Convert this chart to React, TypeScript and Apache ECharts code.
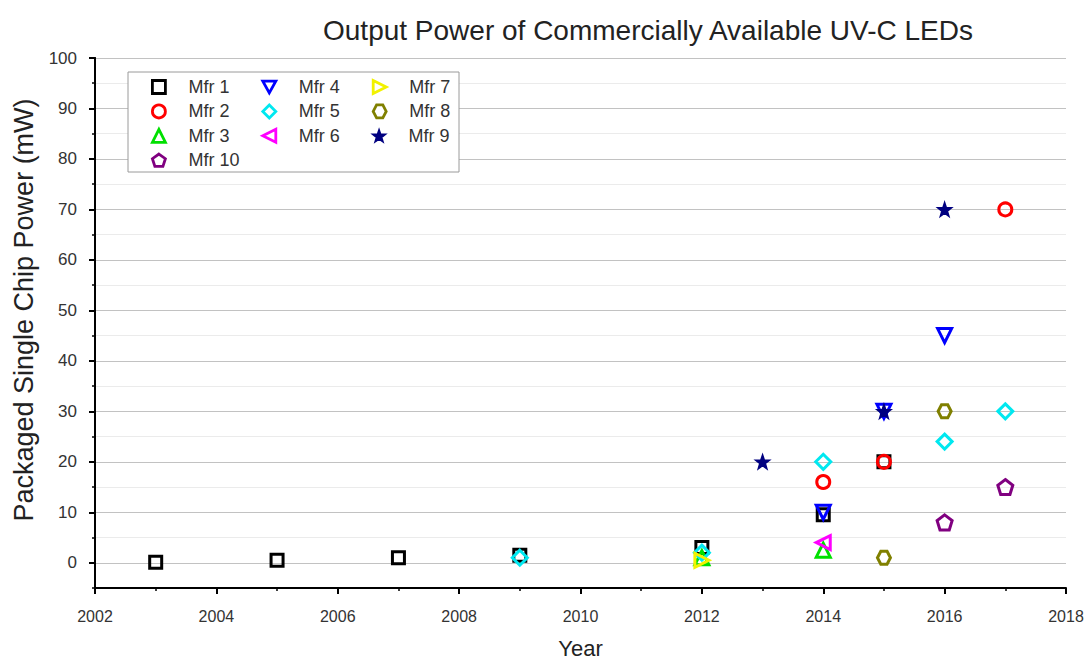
import React, { useEffect, useRef } from "react";
import * as echarts from "echarts";

const FONT = "'Liberation Sans', Arial, sans-serif";

const chartTitle = "Output Power of Commercially Available UV-C LEDs";
const xName = "Year";
const yName = "Packaged Single Chip Power (mW)";
const yMajorTicks = [0, 10, 20, 30, 40, 50, 60, 70, 80, 90, 100];

const mfrNames = ["Mfr 1", "Mfr 2", "Mfr 3", "Mfr 4", "Mfr 5", "Mfr 6", "Mfr 7", "Mfr 8", "Mfr 9", "Mfr 10"];
const mfrColors = ["#000000", "#ff0000", "#00e000", "#0000ff", "#00e8f0", "#ff00ff", "#f2f200", "#808000", "#000080", "#800080"];

const mfr1 = [[2003, 0.1], [2005, 0.5], [2007, 1], [2009, 1.5], [2012, 3], [2014, 9.5], [2015, 20]];
const mfr2 = [[2014, 16], [2015, 20], [2017, 70]];
const mfr3 = [[2012, 1], [2014, 2.5]];
const mfr4 = [[2014, 10], [2015, 30], [2016, 45]];
const mfr5 = [[2009, 1], [2012, 2], [2014, 20], [2016, 24], [2017, 30]];
const mfr6 = [[2014, 4]];
const mfr7 = [[2012, 0.5]];
const mfr8 = [[2015, 1], [2016, 30]];
const mfr9 = [[2013, 20], [2015, 30], [2016, 70]];
const mfr10 = [[2016, 8], [2017, 15]];
const mfrData = [mfr1, mfr2, mfr3, mfr4, mfr5, mfr6, mfr7, mfr8, mfr9, mfr10];

const legendRows = [
  ["Mfr 1", "Mfr 4", "Mfr 7"],
  ["Mfr 2", "Mfr 5", "Mfr 8"],
  ["Mfr 3", "Mfr 6", "Mfr 9"],
  ["Mfr 10"],
];

const SYM = {
  square: "rect",
  circle: "circle",
  up: "triangle",
  down: "path://M0,0 L10,0 L5,9 Z",
  diamond: "diamond",
  left: "path://M10,0 L0,5 L10,10 Z",
  right: "path://M0,0 L10,5 L0,10 Z",
  hex: "path://M2.6,0 L7.4,0 L10,5 L7.4,10 L2.6,10 L0,5 Z",
  star: "path://M5,0 L6.18,3.38 L9.76,3.45 L6.9,5.62 L7.94,9.05 L5,7 L2.06,9.05 L3.1,5.62 L0.24,3.45 L3.82,3.38 Z",
  pent: "path://M5,0 L9.76,3.45 L7.94,9.05 L2.06,9.05 L0.24,3.45 Z",
};
const mfrSymbols = [SYM.square, SYM.circle, SYM.up, SYM.down, SYM.diamond, SYM.left, SYM.right, SYM.hex, SYM.star, SYM.pent];
const mfrSizes = [12, 13, 14, 14, 15, 14, 14, 13, 14, 15];

export default function App() {
  const ref = useRef<HTMLDivElement>(null);
  useEffect(() => {
    if (!ref.current) return;
    const chart = echarts.init(ref.current, null, { renderer: "svg" });

    const series = mfrNames.map((name, i) => ({
      name,
      type: "scatter",
      data: mfrData[i],
      symbol: mfrSymbols[i],
      symbolSize: mfrSizes[i],
      z: 2 + i,
      yAxisIndex: 1,
      itemStyle: {
        color: i === 8 ? mfrColors[i] : "transparent",
        borderColor: mfrColors[i],
        borderWidth: i === 8 ? 1.5 : 3,
        opacity: 1,
      },
      emphasis: { disabled: true },
    }));

    const rowCenters = [85, 109.4, 133.8, 158.2];
    const legends = legendRows.map((row, r) => ({
      data: row.map((name) => {
        const i = mfrNames.indexOf(name);
        return {
          name,
          itemStyle: {
            color: i === 8 ? mfrColors[i] : "transparent",
            borderColor: mfrColors[i],
            borderWidth: i === 8 ? 1.5 : 2.8,
          },
        };
      }),
      orient: "horizontal",
      left: 151,
      top: rowCenters[r] - 7,
      padding: 0,
      itemWidth: 13,
      itemHeight: 13,
      itemGap: 32,
      selectedMode: false,
      textStyle: { fontFamily: FONT, fontSize: 18, color: "#333", padding: [0, 0, 0, 18] },
    }));

    const axisLineStyle = { color: "#000", width: 2 };

    chart.setOption({
      animation: false,
      backgroundColor: "#fff",
      title: {
        text: chartTitle,
        left: 643,
        top: 11,
        textAlign: "center",
        textStyle: { fontFamily: FONT, fontSize: 28, fontWeight: "normal", color: "#222" },
      },
      grid: { left: 95, right: 23, top: 58, bottom: 74, containLabel: false, outerBoundsMode: "none" },
      legend: legends,
      graphic: [
        {
          type: "rect",
          shape: { x: 128, y: 72, width: 331, height: 100 },
          style: { fill: "#fff", stroke: "#9a9a9a", lineWidth: 1 },
          z: 1,
        },
      ],
      xAxis: {
        type: "value",
        min: 2002,
        max: 2018,
        interval: 2,
        name: xName,
        nameLocation: "middle",
        nameGap: 49,
        nameTextStyle: { fontFamily: FONT, fontSize: 22, color: "#222" },
        axisLine: { show: true, onZero: false, lineStyle: axisLineStyle },
        axisTick: { show: true, length: 6, lineStyle: { color: "#000", width: 2 } },
        minorTick: { show: true, splitNumber: 2, length: 3, lineStyle: { color: "#000", width: 1.5 } },
        splitLine: { show: false },
        axisLabel: { fontFamily: FONT, fontSize: 16, color: "#333", margin: 20, formatter: (v: number) => String(v) },
      },
      yAxis: [
        {
          type: "value",
          min: -5,
          max: 100,
          interval: 5,
          position: "left",
          axisLine: { show: true, onZero: false, lineStyle: axisLineStyle },
          axisTick: { show: true, length: 3, lineStyle: { color: "#000", width: 1.5 } },
          axisLabel: { show: false },
          splitLine: { show: true, lineStyle: { color: "#ebebeb", width: 1 } },
        },
        {
          type: "value",
          min: -5,
          max: 100,
          interval: 5,
          position: "left",
          name: yName,
          nameLocation: "middle",
          nameGap: 58,
          nameTextStyle: { fontFamily: FONT, fontSize: 27, color: "#222", padding: [0, 0, 0, 26] },
          axisLine: { show: true, onZero: false, lineStyle: axisLineStyle },
          axisTick: { show: true, length: 6, customValues: yMajorTicks, lineStyle: { color: "#000", width: 2 } },
          axisLabel: { customValues: yMajorTicks, fontFamily: FONT, fontSize: 17, color: "#333", margin: 18 },
          splitLine: { show: true, lineStyle: { color: "#c2c2c2", width: 1.2 } },
        },
      ],
      series,
    });
    return () => chart.dispose();
  }, []);
  return (
    <div
      ref={ref}
      style={{ position: "absolute", left: 0, top: 0, width: 1089, height: 662 }}
    />
  );
}
